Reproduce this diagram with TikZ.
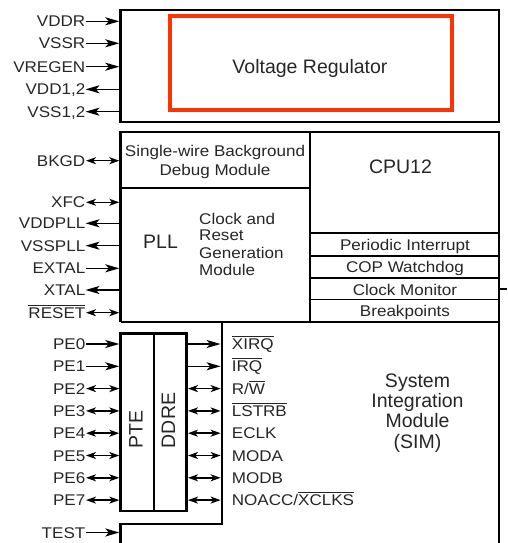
\documentclass[tikz,border=0pt]{standalone}
\usepackage{fontspec}
\setmainfont{Liberation Sans}
\newfontfamily\smf{Liberation Sans}[FakeStretch=1.1]
\usetikzlibrary{arrows.meta}
\definecolor{txt}{HTML}{262626}
\definecolor{regred}{HTML}{FF3300}
\newsavebox\ovlbox
\newcommand\ovl[1]{\sbox\ovlbox{#1}\rlap{\rule[\dimexpr\ht\ovlbox+1.6pt\relax]{\wd\ovlbox}{0.9pt}}\usebox\ovlbox}
\begin{document}
\begin{tikzpicture}[x=1pt,y=-1pt,
  lbl/.style={inner sep=0, font=\smf\fontsize{15.5}{17}\selectfont, text=txt, text height=11pt, text depth=0pt},
  sm/.style={inner sep=0, font=\smf\fontsize{15.5}{17}\selectfont, text=txt},
  big/.style={inner sep=0, font=\fontsize{19.5}{20}\selectfont, text=txt},
  thickbox/.style={line width=2.8pt, line join=miter},
  thinline/.style={line width=1.7pt},
  inarr/.style={line width=1.5pt, -{Stealth[length=14pt,width=8pt,inset=3.5pt]}},
  outarr/.style={line width=1.5pt, {Stealth[length=14pt,width=8pt,inset=3.5pt]}-},
  biarr/.style={line width=1.5pt, {Stealth[length=10pt,width=7pt,inset=2.8pt]}-{Stealth[length=10pt,width=7pt,inset=2.8pt]}},
]
\useasboundingbox (0,0) rectangle (507,543);
% edge coordinates
\coordinate (L) at (119.3,0);
\coordinate (R) at (220.6,0);
\coordinate (S) at (86,0);
\coordinate (D) at (188,0);

% ---------- Voltage regulator block ----------
\draw[thickbox] (120.7,10) rectangle (499,122);
\draw[regred, line width=4pt] (170,16) rectangle (452,110);
\node[big, anchor=base] (vreg) at (310,74) {Voltage Regulator};

\node[lbl, anchor=east] (vddr) at (85.5,21.3) {VDDR};
\node[lbl, anchor=east] (vssr) at (85.5,43.3) {VSSR};
\node[lbl, anchor=east] (vregen) at (85.5,66.7) {VREGEN};
\node[lbl, anchor=east] (vdd) at (85.5,89.3) {VDD1,2};
\node[lbl, anchor=east] (vss) at (85.5,111.7) {VSS1,2};
\draw[inarr] (vddr.east) -- (vddr.east -| L);
\draw[inarr] (vssr.east) -- (vssr.east -| L);
\draw[inarr] (vregen.east) -- (vregen.east -| L);
\draw[outarr] (vdd.east) -- (vdd.east -| L);
\draw[outarr] (vss.east) -- (vss.east -| L);

% ---------- Core block ----------
\draw[thickbox] (120.7,322) -- (120.7,132) -- (499,132) -- (499,548);
\draw[thickbox] (120.7,322) -- (499,322);
\draw[thickbox] (222,322) -- (222,524) -- (120.7,524) -- (120.7,548);
\draw[thinline] (310,132) -- (310,322);
\draw[thinline] (120.7,188) -- (310,188);
\draw[thinline] (310,233) -- (499,233);
\draw[thinline] (310,255.7) -- (499,255.7);
\draw[thinline] (310,277.7) -- (499,277.7);
\draw[thinline] (310,299.5) -- (499,299.5);
\draw[thickbox] (499,289) -- (507,289);

\node[sm, anchor=base] (sw1) at (215,156.7) {Single-wire Background};
\node[sm, anchor=base] (sw2) at (215,175) {Debug Module};
\node[big, anchor=base] (cpu) at (400.5,173.3) {CPU12};
\node[big, anchor=base] (pll) at (160.5,248.3) {PLL};
\node[sm, anchor=base west] (crg1) at (199,224) {Clock and};
\node[sm, anchor=base west] (crg2) at (199,240.7) {Reset};
\node[sm, anchor=base west] (crg3) at (199,258.3) {Generation};
\node[sm, anchor=base west] (crg4) at (199,275.7) {Module};
\node[sm, anchor=base] (pit) at (405,250) {Periodic Interrupt};
\node[sm, anchor=base] (cop) at (405,272.3) {COP Watchdog};
\node[sm, anchor=base] (clm) at (405,295) {Clock Monitor};
\node[sm, anchor=base] (brk) at (405,316.7) {Breakpoints};

\node[lbl, anchor=east] (bkgd) at (85.5,160.7) {BKGD};
\node[lbl, anchor=east] (xfc) at (85.5,202.3) {XFC};
\node[lbl, anchor=east] (vddpll) at (85.5,223.3) {VDDPLL};
\node[lbl, anchor=east] (vsspll) at (85.5,245.7) {VSSPLL};
\node[lbl, anchor=east] (extal) at (85.5,268.3) {EXTAL};
\node[lbl, anchor=east] (xtal) at (85.5,290) {XTAL};
\node[lbl, anchor=east] (reset) at (85.5,312.7) {\ovl{RESET}};
\draw[biarr] (bkgd.east -| S) -- (bkgd.east -| L);
\draw[biarr] (xfc.east -| S) -- (xfc.east -| L);
\draw[outarr] (vddpll.east) -- (vddpll.east -| L);
\draw[outarr] (vsspll.east) -- (vsspll.east -| L);
\draw[inarr] (extal.east) -- (extal.east -| L);
\draw[outarr] (xtal.east) -- (xtal.east -| L);
\draw[biarr] (reset.east -| S) -- (reset.east -| L);

% ---------- Port E ----------
\draw[thickbox] (120.7,333.3) rectangle (154,511);
\draw[thickbox] (154,333.3) rectangle (186.7,511);
\node[big, rotate=90, anchor=west] (pte) at (136,448.3) {PTE};
\node[big, rotate=90, anchor=west] (ddre) at (168.3,448.3) {DDRE};

\node[lbl, anchor=east] (pe0) at (85.5,344) {PE0};
\node[lbl, anchor=east] (pe1) at (85.5,366.3) {PE1};
\node[lbl, anchor=east] (pe2) at (85.5,388.6) {PE2};
\node[lbl, anchor=east] (pe3) at (85.5,410.9) {PE3};
\node[lbl, anchor=east] (pe4) at (85.5,433.2) {PE4};
\node[lbl, anchor=east] (pe5) at (85.5,455.5) {PE5};
\node[lbl, anchor=east] (pe6) at (85.5,477.8) {PE6};
\node[lbl, anchor=east] (pe7) at (85.5,500.1) {PE7};
\draw[inarr] (pe0.east) -- (pe0.east -| L);
\draw[inarr] (pe1.east) -- (pe1.east -| L);
\foreach \p in {pe2,pe3,pe4,pe5,pe6,pe7}
  \draw[biarr] (\p.east -| S) -- (\p.east -| L);

\node[lbl, anchor=west] (xirq) at (231.7,344) {\ovl{XIRQ}};
\node[lbl, anchor=west] (irq) at (231.7,366.3) {\ovl{IRQ}};
\node[lbl, anchor=west] (rw) at (231.7,388.6) {R/\ovl{W}};
\node[lbl, anchor=west] (lstrb) at (231.7,410.9) {\ovl{LSTRB}};
\node[lbl, anchor=west] (eclk) at (231.7,433.2) {ECLK};
\node[lbl, anchor=west] (moda) at (231.7,455.5) {MODA};
\node[lbl, anchor=west] (modb) at (231.7,477.8) {MODB};
\node[lbl, anchor=west] (noacc) at (231.7,500.1) {NOACC/\ovl{XCLKS}};
\draw[inarr] (xirq.west -| 188,0) -- (xirq.west -| R);
\draw[inarr] (irq.west -| 188,0) -- (irq.west -| R);
\foreach \p in {rw,lstrb,eclk,moda,modb,noacc}
  \draw[biarr] (\p.west -| D) -- (\p.west -| R);

\node[big, anchor=base] (sim1) at (417.5,387.7) {System};
\node[big, anchor=base] (sim2) at (417.5,407.5) {Integration};
\node[big, anchor=base] (sim3) at (417.5,427.3) {Module};
\node[big, anchor=base] (sim4) at (417.5,448) {(SIM)};

% ---------- TEST ----------
\node[lbl, anchor=east] (test) at (85.5,532.5) {TEST};
\draw[inarr] (test.east) -- (test.east -| L);
\end{tikzpicture}
\end{document}
